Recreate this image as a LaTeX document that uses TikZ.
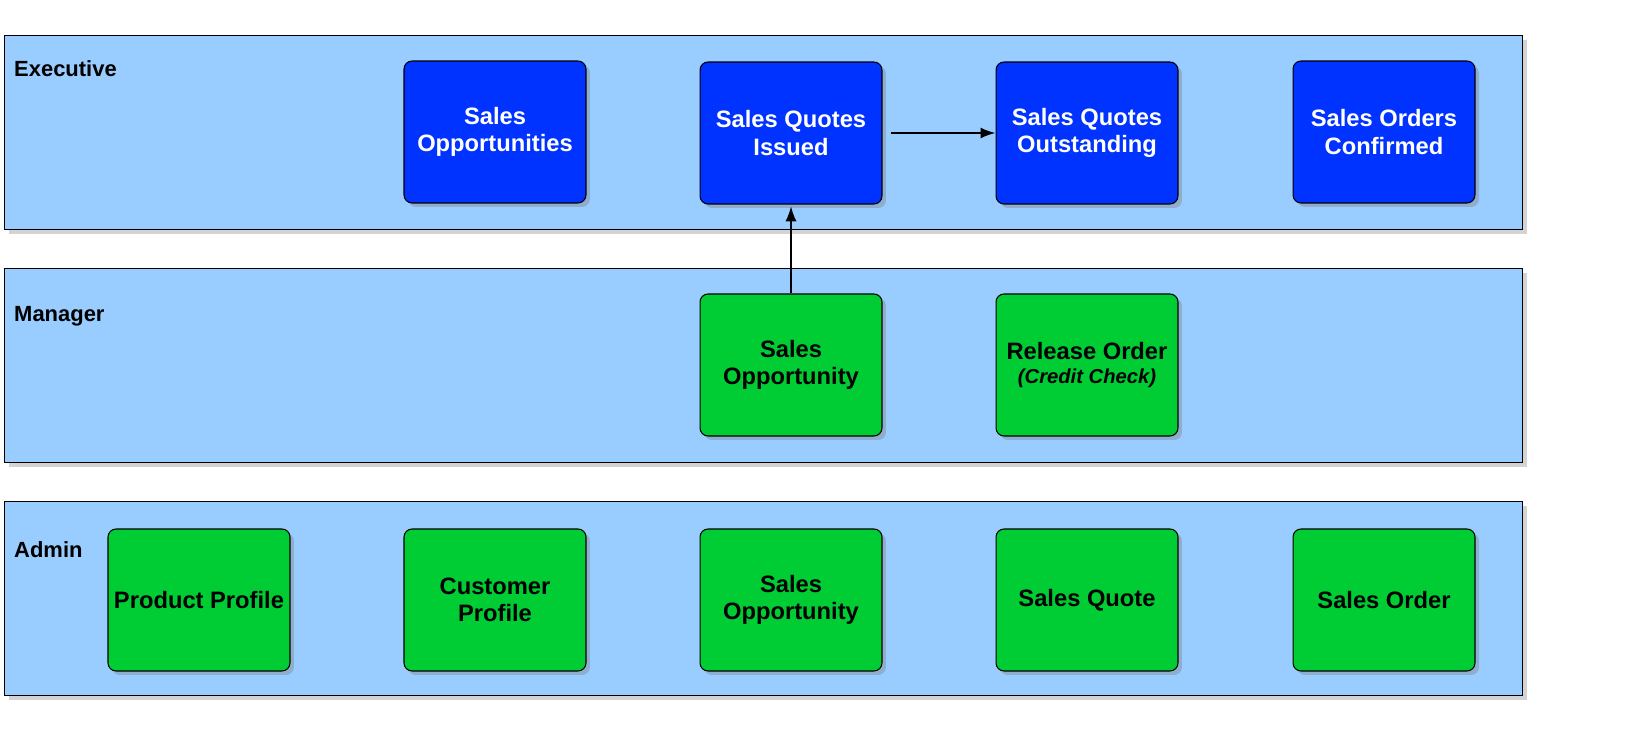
\documentclass[tikz,border=0pt]{standalone}
\usepackage{fontspec}
\setmainfont{Liberation Sans}
\usetikzlibrary{shadows,arrows.meta}
\definecolor{lanebg}{RGB}{153,204,255}
\definecolor{boxblue}{RGB}{0,51,255}
\definecolor{boxgreen}{RGB}{0,204,51}

\begin{document}
\begin{tikzpicture}[x=0.02cm,y=-0.02cm,>={Latex[length=3mm,width=2.2mm]},
    lane/.style={draw,fill=lanebg,line width=0.6pt,anchor=north west,inner sep=0pt,minimum width=30.36cm,minimum height=3.88cm,drop shadow={shadow xshift=0.09cm,shadow yshift=-0.09cm,opacity=0.35}},
    lane label/.style={anchor=west,font=\fontsize{12.5}{15}\selectfont\bfseries},
    main node/.style={draw,rounded corners=0.16cm,line width=0.6pt,minimum width=3.64cm,minimum height=2.84cm,align=center,font=\fontsize{13.5}{15.5}\selectfont\bfseries,drop shadow={shadow xshift=0.08cm,shadow yshift=-0.08cm,opacity=0.4}},
    exec node/.style={main node,fill=boxblue,text=white},
    task node/.style={main node,fill=boxgreen}]
    \useasboundingbox (0,0) rectangle (1646,739);

    % lanes
    \node[lane] (executive) at (4,35) {};
    \node[lane] (manager) at (4,268) {};
    \node[lane] (admin) at (4,501) {};
    \node[lane label] (executive label) at (8,69) {Executive};
    \node[lane label] (manager label) at (8,316) {Manager};
    \node[lane label] (admin label) at (8,550) {Admin};

    % executive
    \node[exec node] (opportunities) at (495,132) {Sales\\Opportunities};
    \node[exec node] (quotes issued) at (791,133) {Sales Quotes\\Issued};
    \node[exec node] (quotes outstanding) at (1087,133) {Sales Quotes\\Outstanding};
    \node[exec node] (orders confirmed) at (1384,132) {Sales Orders\\Confirmed};

    % manager
    \node[task node] (mgr opportunity) at (791,365) {Sales\\Opportunity};
    \node[task node] (release order) at (1087,365) {Release Order\\[-2pt]{\fontsize{11.5}{13}\selectfont\itshape (Credit Check)}};

    % admin
    \node[task node] (product) at (199,600) {Product Profile};
    \node[task node] (customer) at (495,600) {Customer\\Profile};
    \node[task node] (adm opportunity) at (791,600) {Sales\\Opportunity};
    \node[task node] (quote) at (1087,600) {Sales Quote};
    \node[task node] (order) at (1384,600) {Sales Order};

    \draw[->,line width=1pt,shorten <=5pt] (quotes issued) -- (quotes outstanding);
    \draw[->,line width=1pt,shorten >=1pt] (mgr opportunity) -- (quotes issued);
\end{tikzpicture}
\end{document}
